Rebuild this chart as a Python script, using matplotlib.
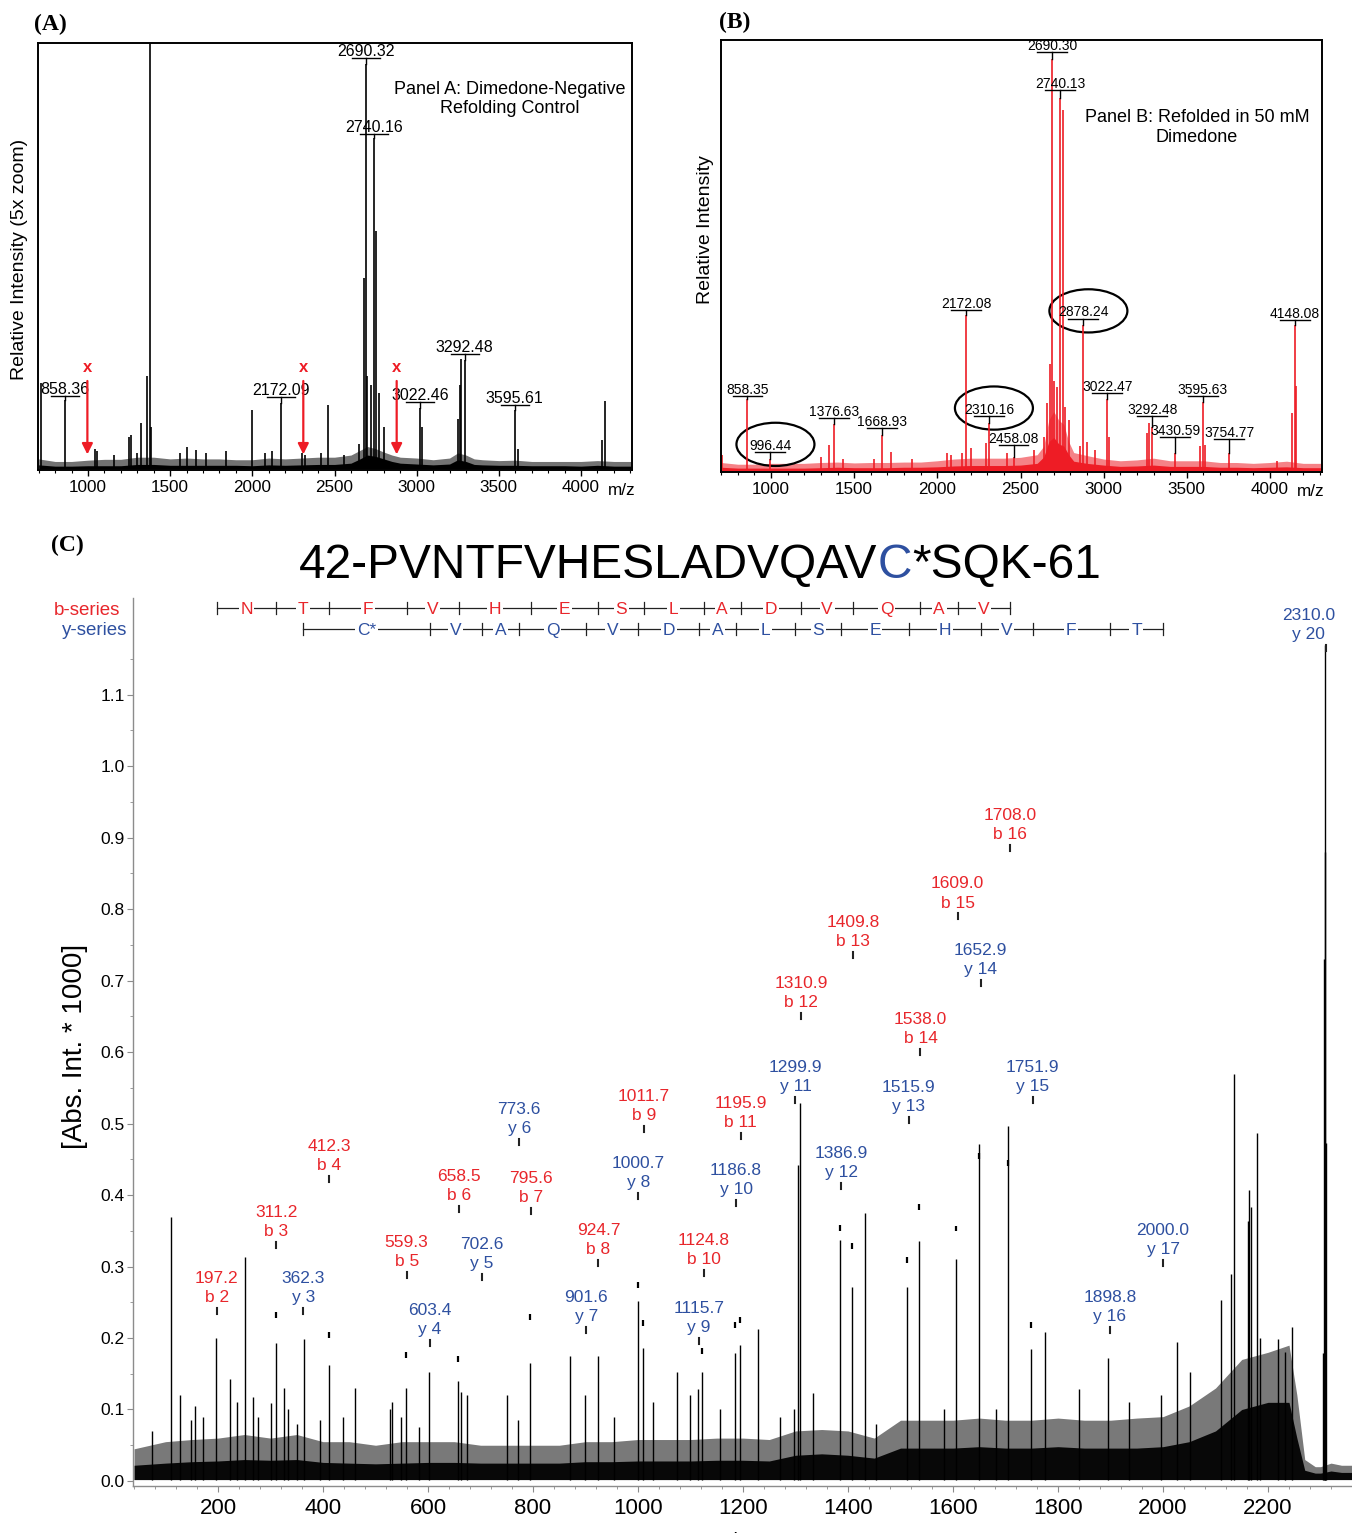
import matplotlib
matplotlib.use('Agg')
import matplotlib.pyplot as plt
import matplotlib.transforms as mtransforms
from matplotlib.patches import Ellipse
from matplotlib.ticker import MultipleLocator, FixedLocator

plt.rcParams['font.family'] = ['Liberation Sans', 'DejaVu Sans']

RED = '#ee1c25'
LRED = '#e8262b'
BLUE = '#2e50a0'

# ---------------- panel A (control, black) ----------------
a_peak_mz = [716, 858.36, 1040, 1052, 1160, 1250, 1262, 1300, 1322, 1360, 1376, 1385,
             1560, 1600, 1660, 1720, 1840, 2000, 2080, 2120, 2172.09, 2300, 2320, 2420,
             2458, 2560, 2650, 2680, 2690.32, 2700, 2720, 2740.16, 2755, 2770, 2800,
             3022.46, 3032, 3250, 3262, 3270, 3292.48, 3595.61, 3615, 4130, 4148]
a_peak_h = [20.4, 16.3, 5.0, 4.5, 3.5, 7.8, 8.2, 4.0, 11.0, 22.0, 115, 10.0,
            4.0, 5.4, 4.7, 4.0, 4.5, 14.0, 4.0, 4.5, 15.7, 4.0, 3.5, 4.0,
            15.2, 3.5, 6.0, 45.0, 95.0, 22.0, 20.0, 77.7, 56.0, 18.0, 10.0,
            14.5, 10.0, 12.0, 20.0, 26.0, 25.8, 14.0, 5.0, 7.0, 16.2]
a_noise_mz = [700, 800, 900, 1000, 1100, 1200, 1300, 1400, 1500, 1600, 1700, 1800, 1900,
              2000, 2100, 2200, 2300, 2400, 2500, 2600, 2650, 2700, 2750, 2800, 2850,
              2900, 3000, 3100, 3200, 3250, 3300, 3350, 3400, 3500, 3600, 3700, 3800,
              3900, 4000, 4100, 4200, 4310]
a_noise_mid = [1.2, 0.9, 0.9, 1.0, 1.0, 1.0, 1.3, 1.3, 1.1, 1.1, 1.1, 1.1, 1.1,
               1.0, 1.2, 1.1, 1.2, 1.3, 1.3, 1.6, 2.5, 3.5, 3.2, 2.6, 2.0,
               1.6, 1.4, 1.2, 1.4, 2.4, 2.0, 1.3, 1.2, 1.1, 1.1, 1.0, 1.0,
               1.0, 0.9, 1.1, 0.9, 0.9]
a_noise_top = [2.6, 2.0, 2.0, 2.3, 2.5, 2.5, 3.0, 3.0, 2.6, 2.8, 2.6, 2.6, 2.4,
               2.4, 2.8, 2.6, 2.8, 3.0, 3.0, 3.5, 4.5, 5.5, 5.0, 4.2, 3.5,
               3.0, 2.8, 2.4, 2.8, 4.0, 3.5, 2.6, 2.4, 2.2, 2.3, 2.0, 2.0,
               2.0, 2.0, 2.2, 2.0, 2.0]
a_label_txt = ['858.36', '2172.09', '2690.32', '2740.16', '3022.46', '3292.48', '3595.61']
a_label_mz = [858.36, 2172.09, 2690.32, 2740.16, 3022.46, 3292.48, 3595.61]
a_label_bar = [17.3, 17.1, 96.5, 78.7, 15.9, 27.2, 15.2]
a_missing_mz = [996.44, 2310.16, 2878.24]

# ---------------- panel B (dimedone, red) ----------------
b_peak_mz = [705, 858.35, 996.44, 1300, 1350, 1376.63, 1430, 1620, 1668.93, 1720, 1850,
             2060, 2080, 2150, 2172.08, 2200, 2290, 2310.16, 2420, 2458.08, 2580, 2640,
             2660, 2680, 2690.30, 2700, 2720, 2740.13, 2755, 2770, 2790, 2860, 2878.24,
             2900, 2950, 3022.47, 3032, 3260, 3270, 3292.48, 3430.59, 3580, 3595.63,
             3612, 3754.77, 4040, 4130, 4148.08, 4155]
b_peak_h = [4.0, 16.8, 3.0, 3.5, 6.2, 11.0, 3.0, 3.0, 8.6, 4.6, 3.0,
            4.5, 4.0, 4.5, 36.3, 5.5, 6.6, 11.4, 4.5, 3.5, 5.0, 8.0,
            16.0, 25.0, 95.6, 21.0, 19.7, 86.5, 83.8, 15.0, 12.0, 6.0, 34.0,
            7.0, 5.0, 16.9, 8.0, 9.0, 11.3, 10.5, 4.4, 6.0, 16.3,
            6.2, 4.4, 2.5, 13.6, 34.0, 20.0]
b_noise_mz = [700, 800, 900, 1000, 1100, 1200, 1300, 1400, 1500, 1600, 1700, 1800, 1900,
              2000, 2100, 2200, 2300, 2400, 2500, 2600, 2640, 2670, 2700, 2730, 2760,
              2790, 2820, 2900, 3000, 3100, 3200, 3300, 3400, 3500, 3600, 3700, 3800,
              3900, 4000, 4100, 4200, 4313]
b_noise_mid = [1.1, 0.9, 0.9, 0.9, 0.9, 0.9, 1.0, 1.1, 1.0, 1.0, 1.0, 1.1, 1.1,
               1.2, 1.4, 1.5, 1.5, 1.5, 1.6, 2.0, 3.5, 7.0, 8.0, 6.5, 6.0,
               4.0, 2.5, 2.0, 1.6, 1.3, 1.4, 1.6, 1.3, 1.3, 1.3, 1.1, 1.1,
               1.0, 1.1, 1.2, 1.0, 1.0]
b_noise_top = [2.2, 1.8, 1.8, 2.0, 2.0, 2.0, 2.2, 2.3, 2.1, 2.2, 2.2, 2.3, 2.3,
               2.6, 3.0, 3.2, 3.2, 3.2, 3.4, 4.0, 6.0, 12.0, 14.0, 12.0, 11.0,
               7.0, 4.5, 3.8, 3.0, 2.6, 2.8, 3.2, 2.6, 2.6, 2.6, 2.2, 2.2,
               2.0, 2.2, 2.5, 2.0, 2.0]
b_label_txt = ['858.35', '996.44', '1376.63', '1668.93', '2172.08', '2310.16', '2458.08',
               '2690.30', '2740.13', '2878.24', '3022.47', '3292.48', '3430.59',
               '3595.63', '3754.77', '4148.08']
b_label_mz = [858.35, 996.44, 1376.63, 1668.93, 2172.08, 2310.16, 2458.08,
              2690.30, 2740.13, 2878.24, 3022.47, 3292.48, 3430.59,
              3595.63, 3754.77, 4148.08]
b_label_bar = [17.6, 4.6, 12.5, 10.2, 37.5, 13.0, 6.25,
               97.2, 88.4, 35.5, 18.3, 13.0, 8.1,
               17.6, 7.6, 35.2]
b_circled = ['996.44', '2310.16', '2878.24']

# ---------------- panel C (MS/MS of 2310) ----------------
c_peak_mz = [74, 110, 128, 148, 156, 172, 197, 223, 236, 251, 267, 277, 300, 311, 326,
             333, 350, 363, 395, 411, 438, 461, 528, 531, 548, 558, 583, 602, 657, 663,
             674, 750, 771, 794, 870, 899, 924, 954, 999, 1009, 1028, 1074, 1099, 1114,
             1122, 1156, 1184, 1194, 1228, 1270, 1297, 1305, 1309, 1334, 1385, 1407,
             1432, 1454, 1512, 1535, 1583, 1605, 1649, 1681, 1705, 1748, 1775, 1840,
             1895, 1935, 1996, 2027, 2051, 2110, 2130, 2135, 2161, 2163, 2167, 2179,
             2184, 2219, 2233, 2246, 2304, 2307, 2308, 2309, 2310]
c_peak_h = [0.07, 0.369, 0.12, 0.085, 0.105, 0.09, 0.200, 0.143, 0.11, 0.313, 0.118, 0.09,
            0.109, 0.193, 0.13, 0.10, 0.08, 0.199, 0.085, 0.162, 0.09, 0.13, 0.10, 0.11,
            0.09, 0.13, 0.075, 0.153, 0.14, 0.125, 0.12, 0.12, 0.085, 0.165, 0.175, 0.12,
            0.175, 0.09, 0.252, 0.186, 0.11, 0.152, 0.12, 0.128, 0.152, 0.10, 0.179, 0.19,
            0.212, 0.09, 0.10, 0.442, 0.528, 0.123, 0.337, 0.272, 0.375, 0.08, 0.271,
            0.336, 0.10, 0.31, 0.471, 0.10, 0.497, 0.184, 0.209, 0.128, 0.172, 0.11,
            0.12, 0.194, 0.153, 0.253, 0.29, 0.569, 0.364, 0.407, 0.383, 0.487, 0.2,
            0.199, 0.18, 0.215, 0.179, 0.73, 0.88, 1.169, 0.473]
c_noise_mz = [40, 100, 150, 200, 250, 300, 350, 400, 450, 500, 550, 600, 650, 700, 750,
              800, 850, 900, 950, 1000, 1050, 1100, 1150, 1200, 1250, 1300, 1350, 1400,
              1450, 1500, 1550, 1600, 1650, 1700, 1750, 1800, 1850, 1900, 1950, 2000,
              2050, 2100, 2150, 2200, 2240, 2255, 2270, 2290, 2300, 2320, 2340, 2360]
c_noise_mid = [0.022, 0.025, 0.027, 0.028, 0.03, 0.029, 0.03, 0.026, 0.025, 0.024, 0.025,
               0.026, 0.026, 0.025, 0.025, 0.025, 0.025, 0.027, 0.027, 0.028, 0.028, 0.028,
               0.029, 0.029, 0.028, 0.036, 0.038, 0.036, 0.032, 0.046, 0.046, 0.046, 0.048,
               0.046, 0.046, 0.048, 0.046, 0.046, 0.046, 0.048, 0.055, 0.07, 0.1, 0.11,
               0.11, 0.06, 0.015, 0.011, 0.011, 0.014, 0.012, 0.012]
c_noise_top = [0.045, 0.055, 0.058, 0.06, 0.065, 0.06, 0.065, 0.055, 0.055, 0.05, 0.055,
               0.055, 0.055, 0.05, 0.05, 0.05, 0.05, 0.055, 0.055, 0.058, 0.058, 0.058,
               0.06, 0.06, 0.058, 0.07, 0.072, 0.07, 0.06, 0.085, 0.085, 0.085, 0.088,
               0.085, 0.085, 0.088, 0.085, 0.085, 0.088, 0.09, 0.105, 0.13, 0.17, 0.18,
               0.19, 0.12, 0.03, 0.02, 0.02, 0.025, 0.022, 0.022]
c_mark_mz = [311, 411, 558, 657, 794, 999, 1009, 1122, 1185, 1194, 1385, 1407, 1512,
             1535, 1605, 1649, 1705, 1748]
c_mark_h = [0.236, 0.208, 0.18, 0.175, 0.233, 0.278, 0.225, 0.186, 0.222, 0.229, 0.358,
            0.333, 0.313, 0.387, 0.357, 0.459, 0.449, 0.222]

b_ion_mz = [197.2, 311.2, 412.3, 559.3, 658.5, 795.6, 924.7, 1011.7, 1124.8, 1195.9,
            1310.9, 1409.8, 1538.0, 1609.0, 1708.0]
b_ion_num = [2, 3, 4, 5, 6, 7, 8, 9, 10, 11, 12, 13, 14, 15, 16]
b_ion_anchor = [0.242, 0.334, 0.427, 0.292, 0.385, 0.382, 0.309, 0.497, 0.295, 0.487,
                0.655, 0.740, 0.604, 0.794, 0.890]
y_ion_mz = [362.3, 603.4, 702.6, 773.6, 901.6, 1000.7, 1115.7, 1186.8, 1299.9, 1386.9,
            1515.9, 1652.9, 1751.9, 1898.8, 2000.0, 2310.0]
y_ion_num = [3, 4, 5, 6, 7, 8, 9, 10, 11, 12, 13, 14, 15, 16, 17, 20]
y_ion_anchor = [0.242, 0.197, 0.290, 0.478, 0.215, 0.403, 0.200, 0.393, 0.537, 0.417,
                0.509, 0.701, 0.537, 0.215, 0.309, 1.169]
b_ladder = ['N', 'T', 'F', 'V', 'H', 'E', 'S', 'L', 'A', 'D', 'V', 'Q', 'A', 'V']
y_ladder = ['C*', 'V', 'A', 'Q', 'V', 'D', 'A', 'L', 'S', 'E', 'H', 'V', 'F', 'T']

W, H = 1352, 1533
fig = plt.figure(figsize=(W / 100, H / 100), dpi=100)


def px_axes(x0, y0, x1, y1):
    return fig.add_axes([x0 / W, 1 - y1 / H, (x1 - x0) / W, (y1 - y0) / H])


def ms_panel(ax, mz, h, nmz, nmid, ntop, color, xlim):
    ax.fill_between(nmz, 0.3, ntop, color=color, alpha=0.55, lw=0)
    ax.fill_between(nmz, 0.3, nmid, color=color, lw=0)
    ax.vlines(mz, 0.3, h, color=color, lw=1.2)
    ax.set_xlim(*xlim)
    ax.set_ylim(0, 100)
    ax.set_yticks([])
    ax.xaxis.set_major_locator(MultipleLocator(500))
    ax.xaxis.set_minor_locator(MultipleLocator(100))
    ax.tick_params(axis='x', which='major', length=4, width=1, labelsize=12.3, pad=3)
    ax.tick_params(axis='x', which='minor', length=2.5, width=0.8)
    for s in ax.spines.values():
        s.set_linewidth(1.4)


def bar_label(ax, mz, bar, top, txt, size, half):
    ax.plot([mz - half, mz + half], [bar, bar], color='k', lw=1)
    ax.plot([mz, mz], [min(top, bar), bar], color='k', lw=1)
    ax.text(mz, bar + 0.5, txt, ha='center', va='baseline', fontsize=size)


# ---- A ----
axa = px_axes(38, 43, 632, 470)
ms_panel(axa, a_peak_mz, a_peak_h, a_noise_mz, a_noise_mid, a_noise_top, 'black', (696, 4310))
a_top = dict(zip(a_peak_mz, a_peak_h))
for t, m, b in zip(a_label_txt, a_label_mz, a_label_bar):
    bar_label(axa, m, b, a_top.get(m, b), t, 11.5, 85)
for m in a_missing_mz:
    axa.annotate('', xy=(m, 3.0), xytext=(m, 21.5),
                 arrowprops=dict(arrowstyle='-|>', color=RED, lw=1.6, mutation_scale=16))
    axa.text(m, 24.0, 'x', color=RED, ha='center', va='center', fontsize=12, fontweight='bold')
axa.text(0.794, 0.869, 'Panel A: Dimedone-Negative\nRefolding Control', transform=axa.transAxes,
         ha='center', va='center', fontsize=13, linespacing=1.2)
axa.text(0.983, -0.047, 'm/z', transform=axa.transAxes, ha='center', va='center', fontsize=12.3)

# ---- B ----
axb = px_axes(721, 40, 1322, 472)
ms_panel(axb, b_peak_mz, b_peak_h, b_noise_mz, b_noise_mid, b_noise_top, RED, (699, 4313))
b_top = dict(zip(b_peak_mz, b_peak_h))
for t, m, b in zip(b_label_txt, b_label_mz, b_label_bar):
    bar_label(axb, m, b, b_top.get(m, b), t, 10, 90)
    if t in b_circled:
        axb.add_patch(Ellipse((m + 30, b + 1.8), 469, 10, fill=False, ec='black', lw=1.6))
axb.text(0.792, 0.797, 'Panel B: Refolded in 50 mM\nDimedone', transform=axb.transAxes,
         ha='center', va='center', fontsize=13, linespacing=1.2)
axb.text(0.982, -0.046, 'm/z', transform=axb.transAxes, ha='center', va='center', fontsize=12.3)

# ---- C ----
axc = px_axes(133, 598, 1352, 1486)
axc.fill_between(c_noise_mz, 0.002, c_noise_top, color='0.25', alpha=0.7, lw=0)
axc.fill_between(c_noise_mz, 0.002, c_noise_mid, color='0.03', lw=0)
axc.vlines(c_peak_mz, 0.002, c_peak_h, color='black', lw=1.0)
axc.vlines(c_mark_mz, [h - 0.008 for h in c_mark_h], c_mark_h, color='black', lw=1.6)
axc.set_xlim(38, 2360)
axc.set_ylim(-0.007, 1.235)
for s in ['top', 'right']:
    axc.spines[s].set_visible(False)
for s in ['left', 'bottom']:
    axc.spines[s].set_color('#8c8c8c')
    axc.spines[s].set_linewidth(1.0)
axc.xaxis.set_major_locator(MultipleLocator(200))
axc.xaxis.set_minor_locator(MultipleLocator(40))
axc.yaxis.set_major_locator(FixedLocator([i / 10 for i in range(12)]))
axc.yaxis.set_minor_locator(FixedLocator([i / 10 + 0.05 for i in range(12)]))
axc.set_yticklabels(['%.1f' % (i / 10) for i in range(12)])
axc.tick_params(axis='x', which='major', length=4, color='#8c8c8c', labelsize=16, pad=5)
axc.tick_params(axis='x', which='minor', length=2.5, color='#8c8c8c')
axc.tick_params(axis='y', which='major', length=4, color='#8c8c8c', labelsize=12.5, pad=2)
axc.tick_params(axis='y', which='minor', length=2.5, color='#8c8c8c')


def ion_label(mz, anchor, txt, color, dx=0, ha='center'):
    axc.plot([mz, mz], [anchor - 0.0085, anchor], color='#222222', lw=1.5)
    axc.annotate(txt, xy=(mz, anchor), xytext=(dx, 2), textcoords='offset points',
                 ha=ha, va='bottom', color=color, fontsize=12.5, linespacing=1.35,
                 multialignment='center')


for m, n, a in zip(b_ion_mz, b_ion_num, b_ion_anchor):
    ion_label(m, a, '%.1f\nb %d' % (m, n), LRED)
for m, n, a in zip(y_ion_mz, y_ion_num, y_ion_anchor):
    if n == 20:
        ion_label(m, a, '%.1f\ny %d' % (m, n), BLUE, dx=7, ha='right')
    else:
        ion_label(m, a, '%.1f\ny %d' % (m, n), BLUE)


def ladder(pos, letters, yv, color):
    axc.plot([pos[0], pos[-1]], [yv, yv], color='#222222', lw=0.9)
    for p in pos:
        axc.plot([p, p], [yv - 0.0085, yv + 0.0085], color='#222222', lw=0.9)
    for a, b, s in zip(pos[:-1], pos[1:], letters):
        axc.text((a + b) / 2, yv, s, color=color, ha='center', va='center_baseline',
                 fontsize=12.5, bbox=dict(fc='white', ec='none', pad=1.2))


ladder(b_ion_mz, b_ladder, 1.221, LRED)
ladder(y_ion_mz[:-1], y_ladder, 1.192, BLUE)
blend = mtransforms.blended_transform_factory(axc.transAxes, axc.transData)
axc.text(-0.0107, 1.221, 'b-series', transform=blend, ha='right', va='center_baseline',
         color=LRED, fontsize=13.5)
axc.text(-0.005, 1.192, 'y-series', transform=blend, ha='right', va='center_baseline',
         color=BLUE, fontsize=13.5)

# ---- figure texts ----
fig.text(20 / W, 1 - 259 / H, 'Relative Intensity (5x zoom)', rotation=90, ha='center',
         va='center', fontsize=14)
fig.text(706 / W, 1 - 230 / H, 'Relative Intensity', rotation=90, ha='center',
         va='center', fontsize=14)
fig.text(75 / W, 1 - 1046 / H, '[Abs. Int. * 1000]', rotation=90, ha='center',
         va='center', fontsize=20)
fig.text(730 / W, 1 - 1542 / H, 'm/z', ha='center', va='center', fontsize=16)
for lab, x, y in [('(A)', 50, 24), ('(B)', 735, 22), ('(C)', 67, 545)]:
    fig.text(x / W, 1 - y / H, lab, ha='center', va='center', fontsize=17,
             fontweight='bold', family=['Liberation Serif', 'DejaVu Serif'])

r = fig.canvas.get_renderer()
parts = [('42-PVNTFVHESLADVQAV', 'black'), ('C', BLUE), ('*SQK-61', 'black')]
objs = [fig.text(0, 1 - 578 / H, s, color=c, fontsize=34.5, va='baseline') for s, c in parts]
widths = [o.get_window_extent(r).width for o in objs]
x0 = 700 - sum(widths) / 2
for o, w in zip(objs, widths):
    o.set_x(x0 / W)
    x0 += w

fig.savefig('out.png', dpi=100)
